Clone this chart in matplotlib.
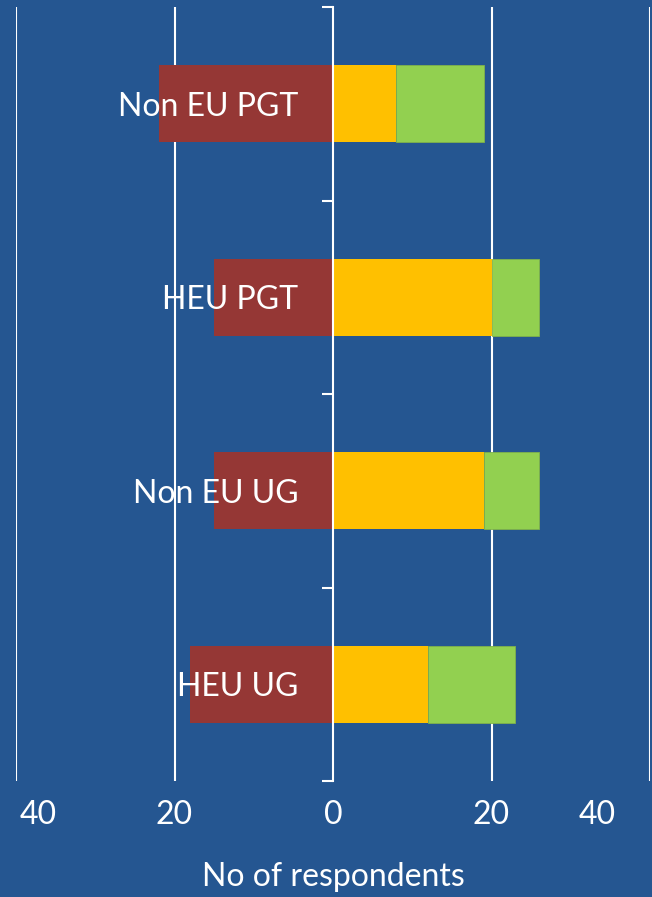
import matplotlib.pyplot as plt
import matplotlib.transforms as mtransforms

# values
categories = ["Non EU PGT", "HEU PGT", "Non EU UG", "HEU UG"]
negative = [22, 15, 15, 18]
neutral = [8, 20, 19, 12]
positive = [11, 6, 7, 11]
xticks = [-40, -20, 0, 20, 40]
xtick_labels = ["40", "20", "0", "20", "40"]

BG = "#255691"
RED = "#953735"
ORANGE = "#FFC000"
GREEN = "#92D050"

plt.rcParams["font.family"] = ["Lato", "DejaVu Sans"]

fig = plt.figure(figsize=(6.52, 8.97), dpi=100, facecolor=BG)
ax = fig.add_axes([16 / 652, 116 / 897, 634 / 652, 774 / 897], facecolor=BG)
ax.set_axisbelow(False)

y = list(range(len(categories)))
h = 0.4
ax.barh(y, [-v for v in negative], height=h, color=RED, zorder=1)
ax.barh(y, neutral, height=h, color=ORANGE, zorder=1)
ax.barh(y, positive, left=neutral, height=h, color=GREEN,
        edgecolor="#7FB24A", linewidth=0.6, zorder=1)

ax.set_xlim(-40, 40)
ax.set_ylim(len(categories) - 0.5, -0.5)

# gridlines behind the bars
for xv in xticks:
    if xv != 0:
        ax.axvline(xv, color="white", linewidth=1.5, zorder=0)

ax.set_xticks(xticks)
ax.set_xticklabels(xtick_labels)
ax.tick_params(axis="x", length=0, pad=14, colors="white", labelsize=23)
labels = ax.get_xticklabels()
labels[0].set_horizontalalignment("left")
labels[0].set_transform(labels[0].get_transform()
                        + mtransforms.ScaledTranslation(4 / 100, 0, fig.dpi_scale_trans))
labels[-1].set_horizontalalignment("right")
labels[-1].set_transform(labels[-1].get_transform()
                         + mtransforms.ScaledTranslation(-34 / 100, 0, fig.dpi_scale_trans))

# y axis sits on zero, category labels to its left
ax.spines["left"].set_position(("data", 0))
ax.spines["left"].set_color("white")
ax.spines["left"].set_linewidth(1.5)
ax.spines["left"].set_zorder(4)
for side in ["right", "top", "bottom"]:
    ax.spines[side].set_visible(False)

ax.set_yticks(y)
ax.set_yticklabels(categories)
ax.set_yticks([v - 0.5 for v in range(len(categories) + 1)], minor=True)
ax.tick_params(axis="y", which="major", length=0, pad=25, colors="white", labelsize=23)
ax.tick_params(axis="y", which="minor", length=8, width=1.5, direction="out", color="white")

ax.set_xlabel("No of respondents", color="white", fontsize=23, labelpad=23)

fig.savefig("out.png", dpi=100, facecolor=BG)
